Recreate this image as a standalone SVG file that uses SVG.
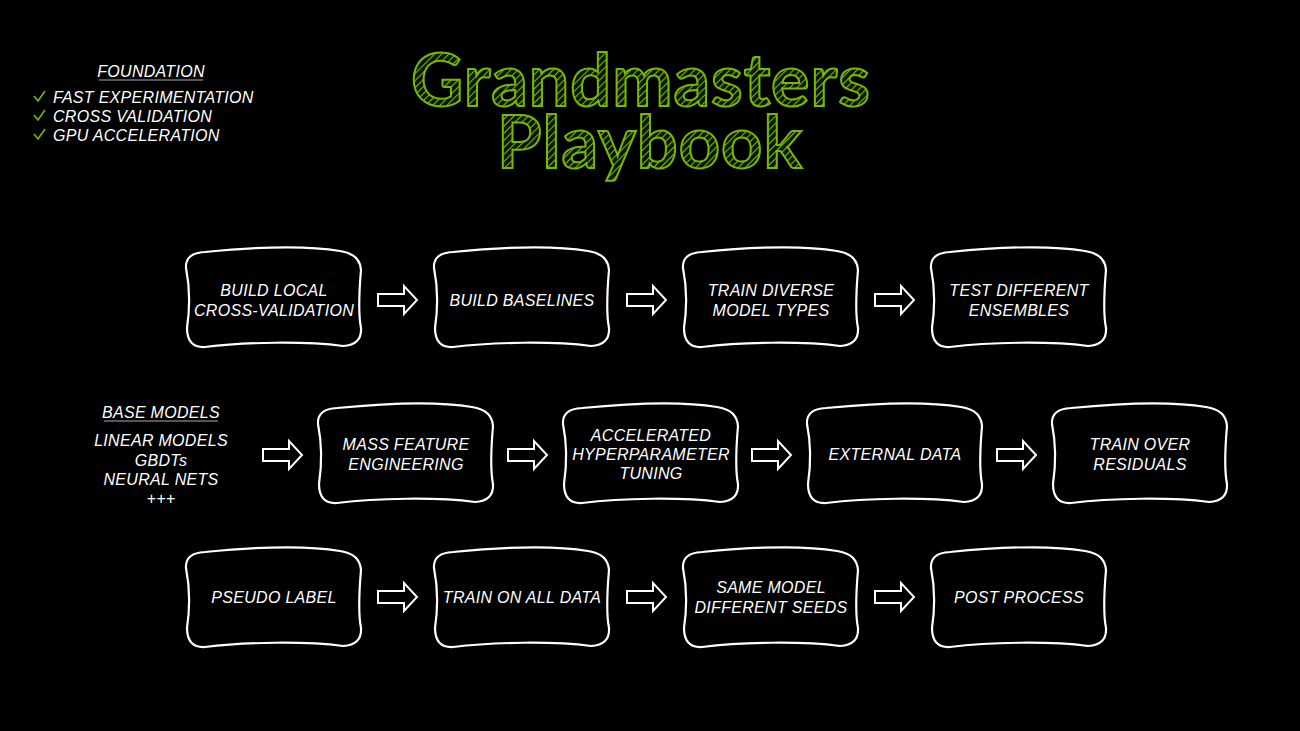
<svg xmlns="http://www.w3.org/2000/svg" width="1300" height="731" viewBox="0 0 1300 731">
<defs>
<pattern id="hatch" patternUnits="userSpaceOnUse" width="5" height="5" patternTransform="rotate(45)">
<rect width="5" height="5" fill="#0a1400"/>
<line x1="0" y1="0" x2="0" y2="5" stroke="#76b900" stroke-width="2.2"/>
</pattern>
<path id="box" d="M20,4 C70,-1 120,-3 155,3 Q175,6 176,22 C174,45 173,65 176,80 Q177,97 158,98 C120,93 60,94 20,99 Q2,100 2,80 C5,60 5,40 1,20 Q0,5 20,4 Z"/>
<path id="arrow" d="M0,-6 L26,-6 L26,-14 L39,0 L26,14 L26,6 L0,6 Z"/>
<style>
.bx{fill:#000;stroke:#fff;stroke-width:2.2}
.ar{fill:#000;stroke:#fff;stroke-width:2}
.t{font-family:"Liberation Sans",Arial,sans-serif;font-style:italic;font-size:16px;fill:#fff;text-anchor:middle;letter-spacing:0.3px}
.l{font-family:"Liberation Sans",Arial,sans-serif;font-style:italic;font-size:16px;fill:#fff;letter-spacing:0.3px}
.ttl{font-family:Lato,"Noto Sans",sans-serif;font-weight:bold;font-size:72px;fill:url(#hatch);stroke:#76b900;stroke-width:2;text-anchor:middle;letter-spacing:1px}
.chk{fill:none;stroke:#76b900;stroke-width:1.6}
</style>
</defs>
<rect width="1300" height="731" fill="#000"/>

<g id="title">
<text class="ttl" x="641" y="106">Grandmasters</text>
<text class="ttl" x="650" y="168">Playbook</text>
</g>

<g id="foundation">
<text class="t" x="151" y="77">FOUNDATION</text>
<line x1="99" y1="80" x2="203" y2="80" stroke="#aaa" stroke-width="1.2"/>
<path class="chk" d="M34,96 L38,101 L45,91"/>
<path class="chk" d="M34,115 L38,120 L45,110"/>
<path class="chk" d="M34,134 L38,139 L45,129"/>
<text class="l" x="53" y="103">FAST EXPERIMENTATION</text>
<text class="l" x="53" y="122">CROSS VALIDATION</text>
<text class="l" x="53" y="141">GPU ACCELERATION</text>
</g>

<g id="base-models">
<text class="t" x="161" y="418">BASE MODELS</text>
<line x1="104" y1="421" x2="218" y2="421" stroke="#aaa" stroke-width="1.2"/>
<text class="t" x="161" y="446">LINEAR MODELS</text>
<text class="t" x="161" y="466">GBDTs</text>
<text class="t" x="161" y="485">NEURAL NETS</text>
<text class="t" x="161" y="504">+++</text>
</g>

<g id="connectors">
<use href="#arrow" class="ar" x="378" y="300"/>
<use href="#arrow" class="ar" x="627" y="300"/>
<use href="#arrow" class="ar" x="875" y="300"/>
<use href="#arrow" class="ar" x="263" y="455"/>
<use href="#arrow" class="ar" x="508" y="455"/>
<use href="#arrow" class="ar" x="752" y="455"/>
<use href="#arrow" class="ar" x="997" y="455"/>
<use href="#arrow" class="ar" x="378" y="597"/>
<use href="#arrow" class="ar" x="627" y="597"/>
<use href="#arrow" class="ar" x="875" y="597"/>
</g>

<g id="n1"><use href="#box" class="bx" x="185" y="248"/><text class="t" x="274" y="296">BUILD LOCAL</text><text class="t" x="274" y="316">CROSS-VALIDATION</text></g>
<g id="n2"><use href="#box" class="bx" x="433" y="248"/><text class="t" x="522" y="306">BUILD BASELINES</text></g>
<g id="n3"><use href="#box" class="bx" x="682" y="248"/><text class="t" x="771" y="296">TRAIN DIVERSE</text><text class="t" x="771" y="316">MODEL TYPES</text></g>
<g id="n4"><use href="#box" class="bx" x="930" y="248"/><text class="t" x="1019" y="296">TEST DIFFERENT</text><text class="t" x="1019" y="316">ENSEMBLES</text></g>

<g id="n5"><use href="#box" class="bx" x="317" y="404"/><text class="t" x="406" y="450">MASS FEATURE</text><text class="t" x="406" y="470">ENGINEERING</text></g>
<g id="n6"><use href="#box" class="bx" x="562" y="404"/><text class="t" x="651" y="441">ACCELERATED</text><text class="t" x="651" y="460">HYPERPARAMETER</text><text class="t" x="651" y="479">TUNING</text></g>
<g id="n7"><use href="#box" class="bx" x="806" y="404"/><text class="t" x="895" y="460">EXTERNAL DATA</text></g>
<g id="n8"><use href="#box" class="bx" x="1051" y="404"/><text class="t" x="1140" y="450">TRAIN OVER</text><text class="t" x="1140" y="470">RESIDUALS</text></g>

<g id="n9"><use href="#box" class="bx" x="185" y="548"/><text class="t" x="274" y="603">PSEUDO LABEL</text></g>
<g id="n10"><use href="#box" class="bx" x="433" y="548"/><text class="t" x="522" y="603">TRAIN ON ALL DATA</text></g>
<g id="n11"><use href="#box" class="bx" x="682" y="548"/><text class="t" x="771" y="593">SAME MODEL</text><text class="t" x="771" y="613">DIFFERENT SEEDS</text></g>
<g id="n12"><use href="#box" class="bx" x="930" y="548"/><text class="t" x="1019" y="603">POST PROCESS</text></g>
</svg>
